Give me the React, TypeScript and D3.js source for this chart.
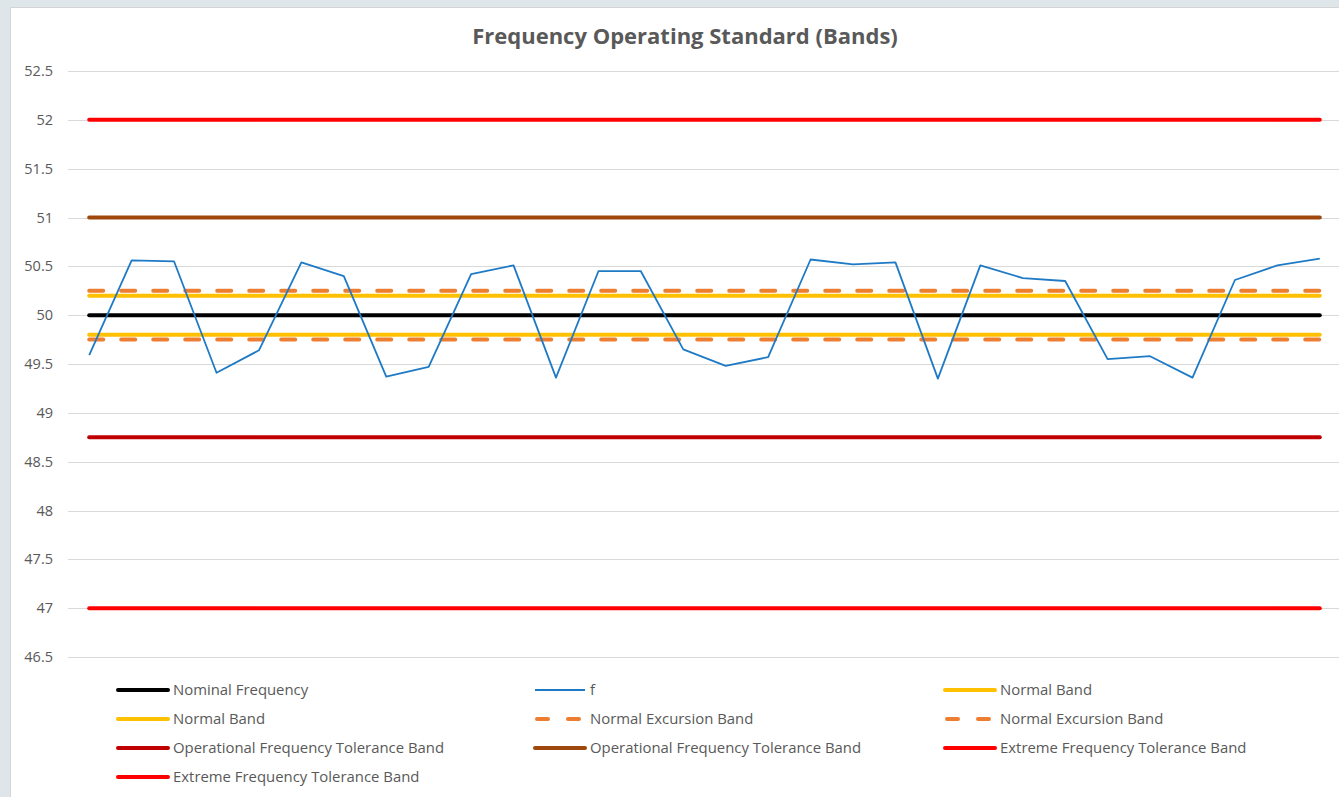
import * as d3 from "d3";

const W = 1339;
const H = 797;

const Y_TICKS = [46.5, 47, 47.5, 48, 48.5, 49, 49.5, 50, 50.5, 51, 51.5, 52, 52.5];

// measured frequency samples
const F_VALUES = [
  49.59, 50.56, 50.55, 49.41, 49.64, 50.54, 50.4, 49.37, 49.47, 50.42,
  50.51, 49.36, 50.45, 50.45, 49.65, 49.48, 49.57, 50.57, 50.52, 50.54,
  49.35, 50.51, 50.38, 50.35, 49.55, 49.58, 49.36, 50.36, 50.51, 50.58,
];

const BAND_NAMES = [
  "Nominal Frequency",
  "Normal Band",
  "Normal Band",
  "Normal Excursion Band",
  "Normal Excursion Band",
  "Operational Frequency Tolerance Band",
  "Operational Frequency Tolerance Band",
  "Extreme Frequency Tolerance Band",
  "Extreme Frequency Tolerance Band",
];
const BAND_VALUES = [50, 50.2, 49.8, 50.25, 49.75, 48.75, 51, 52, 47];
const BAND_COLORS = [
  "#000000",
  "#ffc000",
  "#ffc000",
  "#ed7d31",
  "#ed7d31",
  "#c00000",
  "#9e480e",
  "#ff0000",
  "#ff0000",
];
const BAND_DASHED = [false, false, false, true, true, false, false, false, false];

const F_COLOR = "#1f7ac6";
const TEXT = "#595959";
const FONT = "'Open Sans', Lato, sans-serif";

// legend order as drawn by the spreadsheet (row-major, 3 columns)
const LEGEND = [
  { name: BAND_NAMES[0], color: BAND_COLORS[0], dashed: false, thin: false },
  { name: "f", color: F_COLOR, dashed: false, thin: true },
  ...BAND_NAMES.slice(1).map((name, i) => ({
    name,
    color: BAND_COLORS[i + 1],
    dashed: BAND_DASHED[i + 1],
    thin: false,
  })),
];

export default function App() {
  const idx = F_VALUES.map((_, i) => i);
  const x = d3.scalePoint<number>().domain(idx).range([68, 1341]).padding(0.5);
  const y = d3.scaleLinear().domain([46.5, 52.5]).range([657, 71]);

  const x0 = x(0)!;
  const x1 = x(idx.length - 1)!;

  const line = d3
    .line<number>()
    .x((_, i) => x(i)!)
    .y((d) => y(d));

  const legendCols = [118, 535, 945];
  const legendRow = d3.scaleLinear().domain([0, 1]).range([690, 719]);

  return (
    <svg
      width={W}
      height={H}
      style={{ position: "absolute", left: 0, top: 0, display: "block" }}
      fontFamily={FONT}
    >
      <rect width={W} height={H} fill="#dfe6e9" />
      <rect x={10.5} y={7.5} width={W} height={H} fill="#ffffff" stroke="#d4d4d4" />

      <text
        x={685}
        y={43.5}
        textAnchor="middle"
        fontSize={22}
        fontWeight={700}
        fill={TEXT}
      >
        Frequency Operating Standard (Bands)
      </text>

      {Y_TICKS.map((t) => (
        <g key={t}>
          <line
            x1={68}
            x2={W}
            y1={Math.round(y(t)) + 0.5}
            y2={Math.round(y(t)) + 0.5}
            stroke="#d9d9d9"
            strokeWidth={1.2}
          />
          <text
            x={53}
            y={y(t)}
            dy="0.35em"
            textAnchor="end"
            fontSize={14.5}
            fill={TEXT}
          >
            {t}
          </text>
        </g>
      ))}

      {BAND_VALUES.map((v, i) => (
        <line
          key={i}
          x1={x0}
          x2={x1}
          y1={y(v)}
          y2={y(v)}
          stroke={BAND_COLORS[i]}
          strokeWidth={4}
          strokeLinecap="round"
          strokeDasharray={BAND_DASHED[i] ? "14 18" : undefined}
        />
      ))}

      <path
        d={line(F_VALUES) ?? ""}
        fill="none"
        stroke={F_COLOR}
        strokeWidth={1.8}
        strokeLinejoin="round"
      />

      {LEGEND.map((item, i) => {
        const col = i % 3;
        const row = Math.floor(i / 3);
        const lx = legendCols[col];
        const ly = legendRow(row);
        return (
          <g key={i}>
            <line
              x1={lx + (item.dashed ? 2 : 0)}
              x2={lx + (item.dashed ? 48 : 50)}
              y1={ly}
              y2={ly}
              stroke={item.color}
              strokeWidth={item.thin ? 1.8 : 4}
              strokeLinecap={item.thin ? "butt" : "round"}
              strokeDasharray={item.dashed ? "11 20" : undefined}
            />
            <text x={lx + 55} y={ly} dy="0.35em" fontSize={14.9} fill={TEXT}>
              {item.name}
            </text>
          </g>
        );
      })}
    </svg>
  );
}
